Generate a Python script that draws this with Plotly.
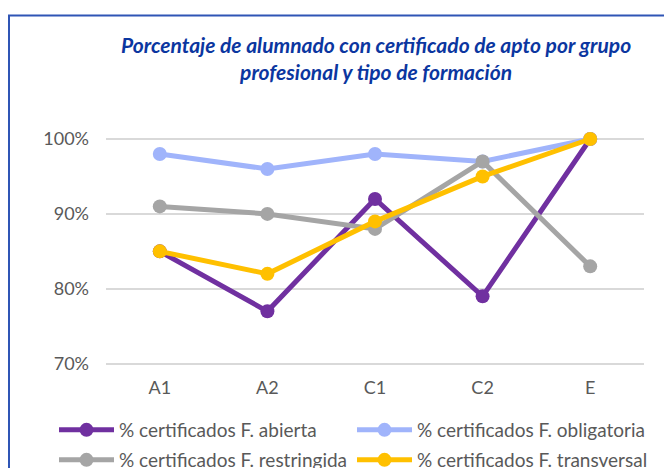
import plotly.graph_objects as go

categories = ["A1", "A2", "C1", "C2", "E"]
abierta = [0.85, 0.77, 0.92, 0.79, 1.00]
obligatoria = [0.98, 0.96, 0.98, 0.97, 1.00]
restringida = [0.91, 0.90, 0.88, 0.97, 0.83]
transversal = [0.85, 0.82, 0.89, 0.95, 1.00]
series_names = [
    "% certificados F. abierta",
    "% certificados F. obligatoria",
    "% certificados F. restringida",
    "% certificados F. transversal",
]
y_ticks = [0.7, 0.8, 0.9, 1.0]
y_tick_labels = ["70%", "80%", "90%", "100%"]
title_text = ("<b><i>Porcentaje de alumnado con certificado de apto por grupo<br>"
              "profesional y tipo de formación</i></b>")

W, H = 672, 468
OFF = 8  # page body margin offset
L, R, T, B = 98, 36, 116, 468 - 367
pw, ph = W - L - R, H - T - B

def px_x(p):
    return (p - OFF - L) / pw

def px_y(p):
    return (H - B - (p - OFF)) / ph

colors = ["#7030A0", "#A0B4FB", "#A5A5A5", "#FFC000"]
values = [abierta, obligatoria, restringida, transversal]
legend_ids = ["legend", "legend2", "legend3", "legend4"]
legend_pos = [(54, 430), (352, 430), (54, 460), (352, 460)]

fig = go.Figure()
for name, vals, col, lid in zip(series_names, values, colors, legend_ids):
    fig.add_trace(go.Scatter(
        x=categories, y=vals, name=name, mode="lines+markers",
        line=dict(color=col, width=5),
        marker=dict(color=col, size=14),
        cliponaxis=False, legend=lid,
    ))

font_fam = "Lato, Open Sans, sans-serif"
layout_legends = {}
for lid, (lx, ly) in zip(legend_ids, legend_pos):
    layout_legends[lid] = dict(
        xref="container", yref="container",
        x=(lx - OFF) / W, y=1 - (ly - OFF) / H,
        xanchor="left", yanchor="middle",
        orientation="h", itemwidth=55,
        font=dict(family=font_fam, size=19, color="#595959"),
        bgcolor="rgba(0,0,0,0)", borderwidth=0,
    )

fig.update_layout(
    width=W, height=H,
    margin=dict(l=L, r=R, t=T, b=B),
    paper_bgcolor="white", plot_bgcolor="white",
    showlegend=True,
    **layout_legends,
    xaxis=dict(
        type="category", range=[-0.5, 4.5], showgrid=False, zeroline=False,
        showline=False, ticks="",
        tickfont=dict(family=font_fam, size=18, color="#595959"),
    ),
    yaxis=dict(
        range=[0.685, 1.02], tickvals=y_ticks, ticktext=y_tick_labels,
        showgrid=True, gridcolor="#D9D9D9", gridwidth=1.5, zeroline=False,
        showline=False, ticks="", ticklabelstandoff=16,
        tickfont=dict(family=font_fam, size=18, color="#595959"),
    ),
    annotations=[dict(
        text=title_text, xref="paper", yref="paper",
        x=px_x(376), y=px_y(58), xanchor="center", yanchor="middle",
        showarrow=False, align="center",
        font=dict(family=font_fam, size=21, color="#0B36A0"),
    )],
    shapes=[dict(
        type="rect", xref="paper", yref="paper",
        x0=px_x(9), y0=px_y(15.5), x1=px_x(W + 40), y1=px_y(H + 40),
        line=dict(color="#2F55B5", width=2), fillcolor="rgba(0,0,0,0)",
        layer="above",
    )],
)

fig.write_html("out.html")
